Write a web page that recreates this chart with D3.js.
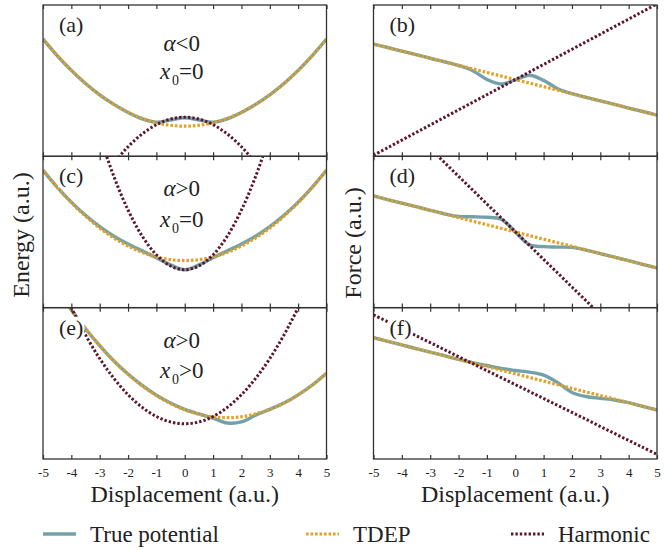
<!DOCTYPE html>
<html>
<head>
<meta charset="utf-8">
<title>Energy and force: true potential, TDEP, harmonic</title>
<script src="https://cdn.jsdelivr.net/npm/d3@7"></script>
<style>
  body { margin: 0; background: #fff; }
  text { font-family: "Liberation Serif", "DejaVu Serif", serif; fill: #222; }
</style>
</head>
<body>
<script>
// displacement grid (a.u.)
var disp = [-5,-4.5,-4,-3.5,-3,-2.5,-2,-1.5,-1,-0.5,0,0.5,1,1.5,2,2.5,3,3.5,4,4.5,5];
var xTicks = [-5,-4,-3,-2,-1,0,1,2,3,4,5];

// energy, panel (a): alpha<0, x0=0
var trueA = [7.75,6.66,5.68,4.81,4.06,3.43,2.90,2.48,2.26,2.40,2.55,2.40,2.26,2.48,2.90,3.43,4.06,4.81,5.68,6.66,7.75];
var tdepA = [7.75,6.66,5.68,4.81,4.06,3.43,2.91,2.51,2.22,2.05,1.99,2.05,2.22,2.51,2.91,3.43,4.06,4.81,5.68,6.66,7.75];
var harmA = [-9.6,-7.3,-5.2,-3.4,-1.81,-0.47,0.63,1.48,2.09,2.46,2.58,2.46,2.09,1.48,0.63,-0.47,-1.81,-3.4,-5.2,-7.3,-9.6];
// energy, panel (c): alpha>0, x0=0
var trueC = [9.08,7.97,6.97,6.10,5.35,4.72,4.20,3.75,3.30,2.82,2.50,2.82,3.30,3.75,4.20,4.72,5.35,6.10,6.97,7.97,9.08];
var tdepC = [9.08,7.95,6.93,6.04,5.26,4.60,4.07,3.65,3.35,3.17,3.11,3.17,3.35,3.65,4.07,4.60,5.26,6.04,6.93,7.95,9.08];
var harmC = [27.2,22.5,18.3,14.6,11.4,8.67,6.45,4.72,3.49,2.75,2.50,2.75,3.49,4.72,6.45,8.67,11.4,14.6,18.3,22.5,27.2];
// energy, panel (e): alpha>0, x0>0
var trueE = [12.68,11.2,9.84,8.61,7.49,6.48,5.62,4.86,4.22,3.70,3.28,2.98,2.70,2.38,2.45,2.90,3.28,3.70,4.24,4.89,5.67];
var tdepE = [12.68,11.2,9.84,8.61,7.49,6.48,5.60,4.83,4.19,3.66,3.25,2.96,2.78,2.73,2.79,2.98,3.28,3.70,4.24,4.89,5.67];
var harmE = [14.3,12.0,10.0,8.20,6.64,5.33,4.25,3.41,2.81,2.45,2.33,2.45,2.81,3.41,4.25,5.33,6.64,8.20,10.0,12.0,14.3];

// force, panel (b)
var trueB = [7.42,7.19,6.95,6.72,6.48,6.25,6.00,5.66,5.08,4.78,5.05,5.36,5.02,4.46,4.14,3.90,3.66,3.43,3.19,2.96,2.72];
var tdepB = [7.42,7.19,6.95,6.72,6.48,6.25,6.01,5.78,5.54,5.31,5.07,4.84,4.60,4.37,4.13,3.90,3.66,3.43,3.19,2.96,2.72];
var harmB = [0.07,0.57,1.07,1.57,2.07,2.57,3.07,3.57,4.07,4.57,5.07,5.57,6.07,6.57,7.07,7.57,8.07,8.57,9.07,9.57,10.07];
// force, panel (d)
var trueD = [7.38,7.14,6.90,6.67,6.43,6.20,6.02,6.00,5.97,5.85,5.00,4.15,4.03,4.00,3.98,3.80,3.57,3.33,3.10,2.86,2.62];
var tdepD = [7.38,7.14,6.90,6.67,6.43,6.19,5.95,5.71,5.48,5.24,5.00,4.76,4.52,4.29,4.05,3.81,3.57,3.33,3.10,2.86,2.62];
var harmD = [14.17,13.26,12.34,11.43,10.51,9.60,8.68,7.77,6.85,5.94,5.02,4.11,3.19,2.28,1.36,0.45,-0.47,-1.39,-2.30,-3.22,-4.13];
// force, panel (f)
var trueF = [8.02,7.78,7.54,7.30,7.06,6.83,6.59,6.37,6.18,5.98,5.85,5.74,5.55,5.05,4.40,4.13,4.01,3.90,3.72,3.48,3.24];
var tdepF = [8.02,7.78,7.54,7.30,7.06,6.83,6.59,6.35,6.11,5.87,5.63,5.39,5.15,4.91,4.67,4.43,4.20,3.96,3.72,3.48,3.24];
var harmF = [9.53,9.07,8.61,8.15,7.69,7.23,6.76,6.30,5.84,5.38,4.92,4.46,4.00,3.54,3.08,2.62,2.15,1.69,1.23,0.77,0.31];

var panelLabels = ["(a)","(b)","(c)","(d)","(e)","(f)"];
var alphaText = ["<0", ">0", ">0"];
var x0Text = ["=0", "=0", ">0"];
var seriesNames = ["True potential", "TDEP", "Harmonic"];

var w = 672, h = 550;
var colX = [[43, 326.5], [373.5, 657]];
var rowTop = [5, 156.3, 307.7], rowH = 151.3;

var styles = [
  {color: "#74a1a9", width: 3.4, dash: null},
  {color: "#e0a126", width: 3.2, dash: "2.6,1.9"},
  {color: "#5c1630", width: 3.0, dash: "2.4,2"}
];

var panels = [
  {row:0, col:0, s:[trueA, tdepA, harmA]},
  {row:0, col:1, s:[trueB, tdepB, harmB]},
  {row:1, col:0, s:[trueC, tdepC, harmC]},
  {row:1, col:1, s:[trueD, tdepD, harmD]},
  {row:2, col:0, s:[trueE, tdepE, harmE]},
  {row:2, col:1, s:[trueF, tdepF, harmF]}
];
var alphaOff = [[46, 74], [40, 71], [40, 70]];

var svg = d3.select("body").append("svg").attr("width", w).attr("height", h);
var defs = svg.append("defs");

panels.forEach(function(p, i) {
  var x = d3.scaleLinear().domain([-5, 5]).range(colX[p.col]);
  var top = rowTop[p.row], bot = top + rowH;
  var y = d3.scaleLinear().domain([0, 10]).range([bot, top]);
  var g = svg.append("g");

  defs.append("clipPath").attr("id", "clip" + i)
    .append("rect").attr("x", x(-5)).attr("y", top).attr("width", x(5) - x(-5)).attr("height", rowH);

  var line = d3.line()
    .x(function(d, j) { return x(disp[j]); })
    .y(function(d) { return y(d); })
    .curve(d3.curveCatmullRom.alpha(0.5));

  var curves = g.append("g").attr("clip-path", "url(#clip" + i + ")");
  p.s.forEach(function(vals, k) {
    curves.append("path").datum(vals)
      .attr("d", line)
      .attr("fill", "none")
      .attr("stroke", styles[k].color)
      .attr("stroke-width", styles[k].width)
      .attr("stroke-dasharray", styles[k].dash);
  });

  // panel label with white box
  var lab = g.append("text").attr("x", x(-5) + 16).attr("y", top + 27)
    .attr("font-size", 22).text(panelLabels[i]);
  var bb = lab.node().getBBox();
  g.insert("rect", "text").attr("x", bb.x - 1).attr("y", bb.y + 2)
    .attr("width", bb.width + 2).attr("height", bb.height - 3).attr("fill", "#fff");

  if (p.col === 0) {
    var cx = x(0) - 3;
    g.append("text").attr("x", cx).attr("y", top + alphaOff[p.row][0])
      .attr("text-anchor", "middle").attr("font-size", 23)
      .html('<tspan font-style="italic">α</tspan>' + alphaText[p.row].replace("<", "&lt;").replace(">", "&gt;"));
    var t = g.append("text").attr("x", cx).attr("y", top + alphaOff[p.row][1])
      .attr("text-anchor", "middle").attr("font-size", 23);
    t.append("tspan").attr("font-style", "italic").text("x");
    t.append("tspan").attr("font-size", 14).attr("dx", 2).attr("dy", 6).text("0");
    t.append("tspan").attr("dy", -6).text(x0Text[p.row]);
  }

  // frame
  g.append("rect").attr("x", x(-5)).attr("y", top).attr("width", x(5) - x(-5)).attr("height", rowH)
    .attr("fill", "none").attr("stroke", "#333").attr("stroke-width", 1.3);

  // inward ticks on top and bottom edges
  g.append("g").attr("transform", "translate(0," + top + ")")
    .call(d3.axisTop(x).tickValues(xTicks).tickSize(-4).tickFormat(""))
    .call(function(a) { a.select(".domain").remove(); a.selectAll("line").attr("stroke", "#333").attr("stroke-width", 1.2); });
  var bottomAxis = g.append("g").attr("transform", "translate(0," + bot + ")")
    .call(d3.axisBottom(x).tickValues(xTicks).tickSize(-4).tickPadding(9)
      .tickFormat(p.row === 2 ? function(d) { return String(d); } : ""))
    .call(function(a) { a.select(".domain").remove(); a.selectAll("line").attr("stroke", "#333").attr("stroke-width", 1.2); });
  bottomAxis.selectAll("text").attr("font-size", 13).attr("fill", "#222")
    .attr("font-family", "Liberation Serif, serif");

  if (p.row === 2) {
    g.append("text").attr("x", x(0)).attr("y", 502).attr("text-anchor", "middle")
      .attr("font-size", 24).text("Displacement (a.u.)");
  }
});

svg.append("text").attr("transform", "translate(29,235) rotate(-90)")
  .attr("text-anchor", "middle").attr("font-size", 24).text("Energy (a.u.)");
svg.append("text").attr("transform", "translate(361,243) rotate(-90)")
  .attr("text-anchor", "middle").attr("font-size", 24).text("Force (a.u.)");

// legend
var legX = [43, 306, 511];
var leg = svg.append("g");
seriesNames.forEach(function(name, k) {
  leg.append("line").attr("x1", legX[k]).attr("x2", legX[k] + 33).attr("y1", 534).attr("y2", 534)
    .attr("stroke", styles[k].color).attr("stroke-width", styles[k].width)
    .attr("stroke-dasharray", styles[k].dash);
  leg.append("text").attr("x", legX[k] + 47).attr("y", 542).attr("font-size", 23).text(name);
});
</script>
</body>
</html>
